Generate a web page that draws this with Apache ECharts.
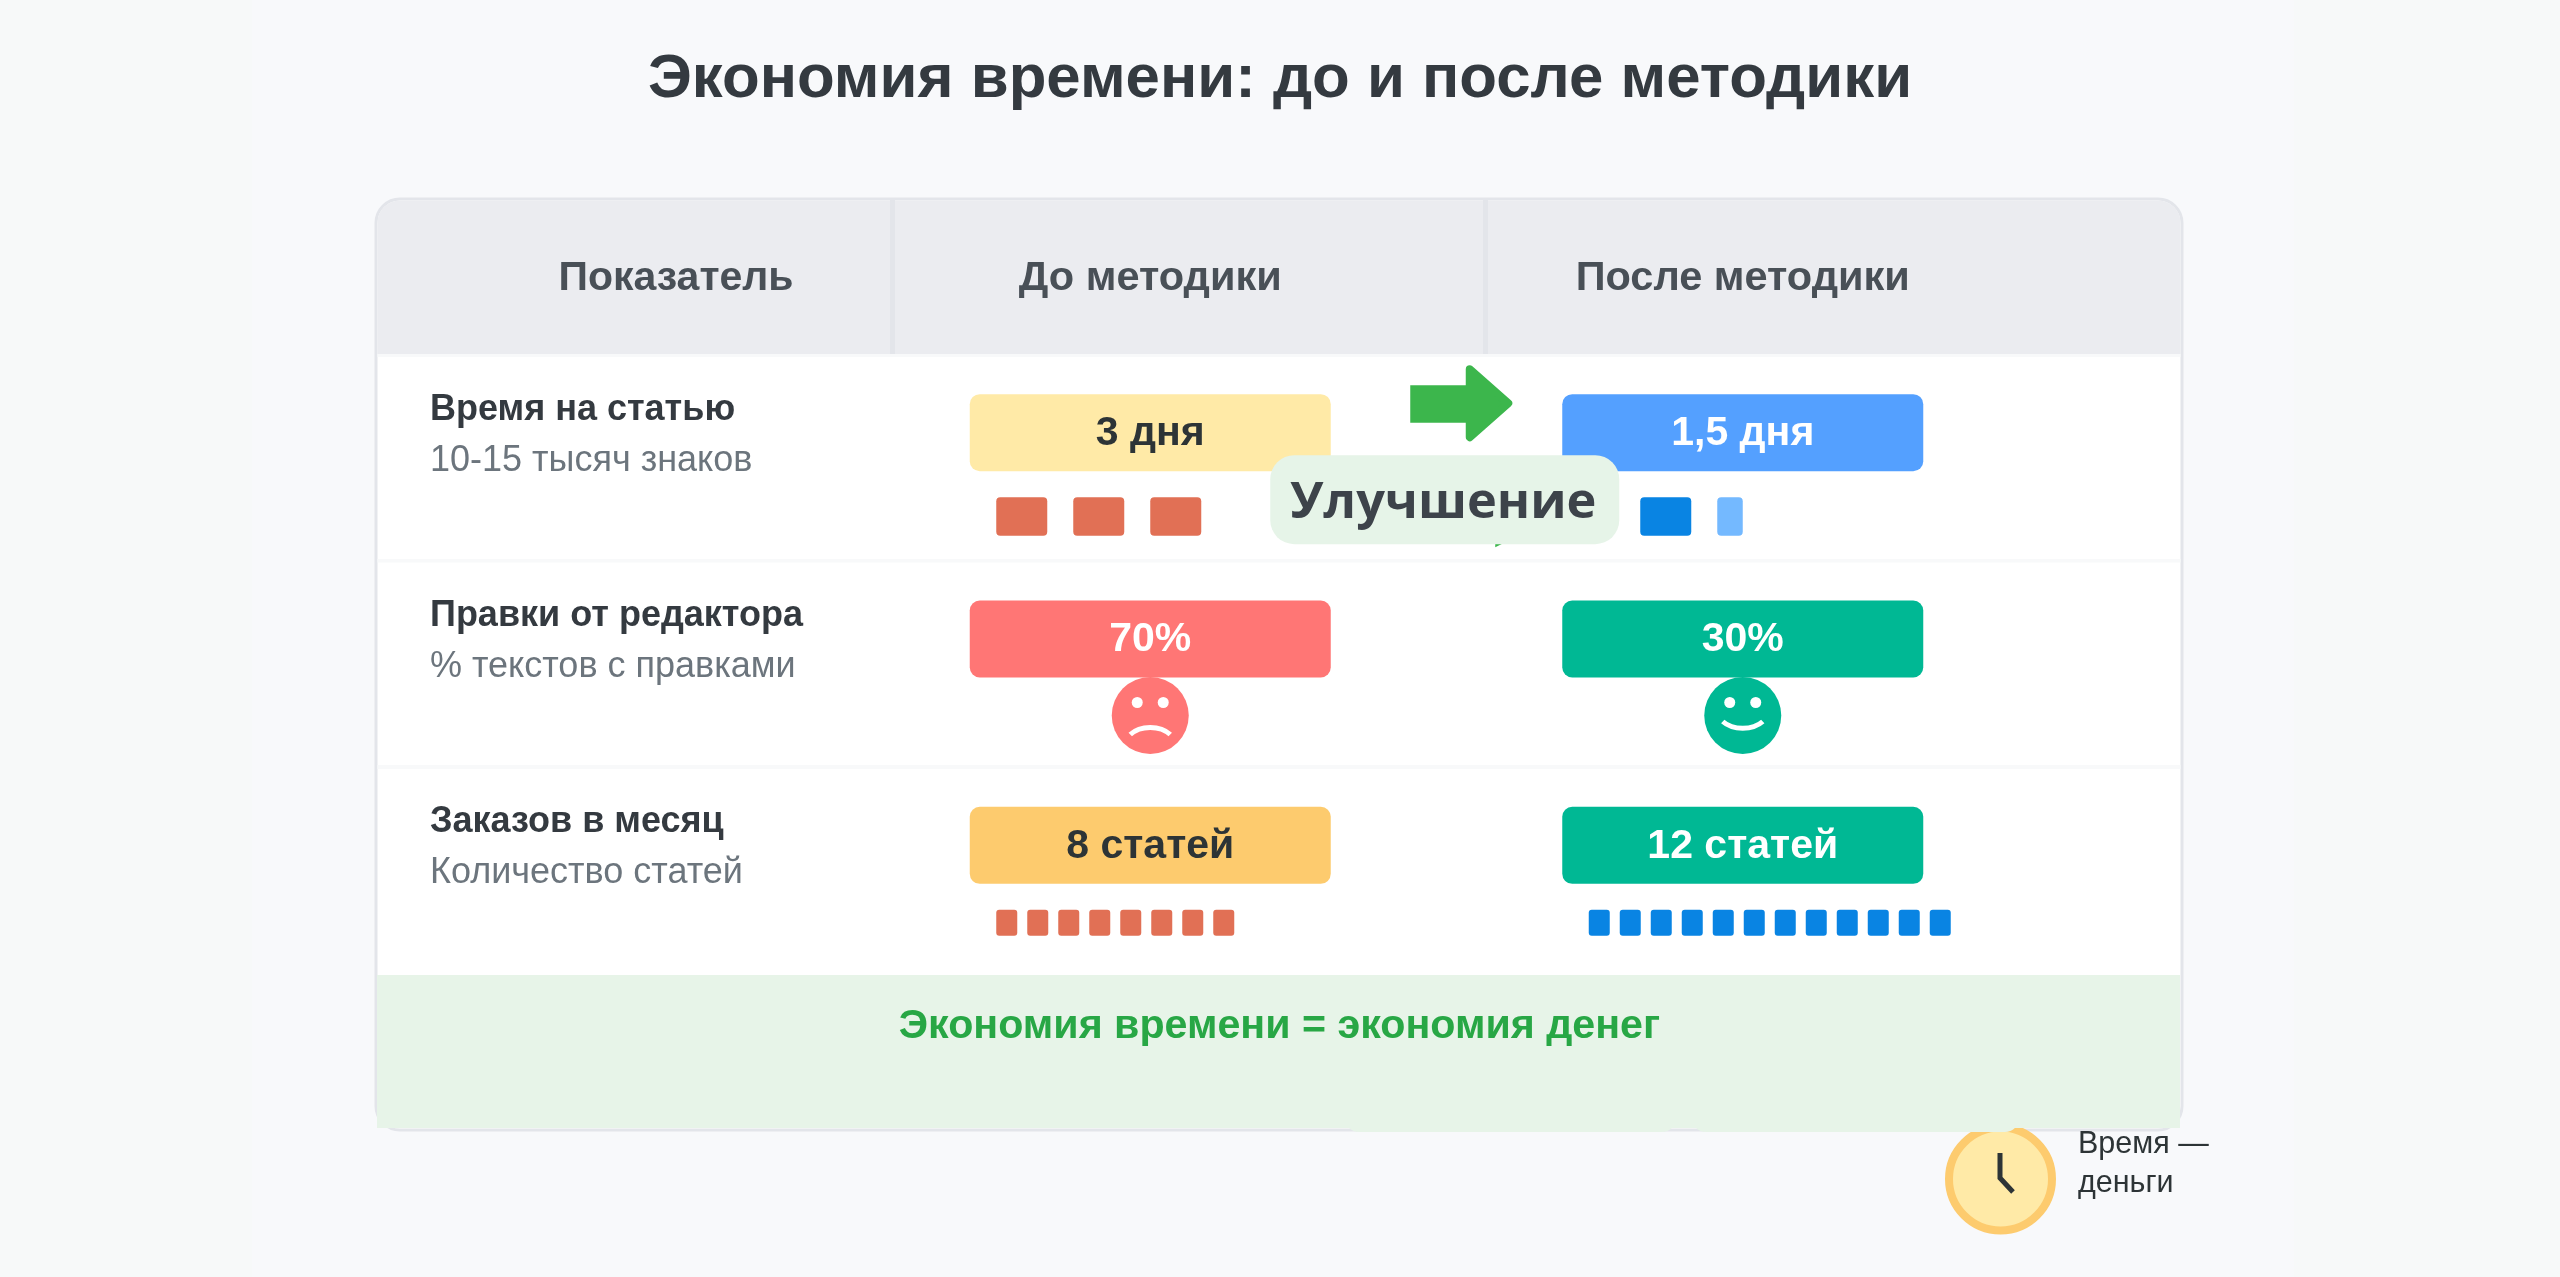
<!DOCTYPE html>
<html><head><meta charset="utf-8">
<style>html,body{margin:0;padding:0;background:#f8f9fa}#c{width:2560px;height:1277px}</style>
<script src="https://cdn.jsdelivr.net/npm/echarts@6/dist/echarts.min.js"></script>
</head><body><div id="c"></div>
<script>
const titleText = 'Экономия времени: до и после методики';
const cornerHeader = 'Показатель';
const columns = ['До методики', 'После методики'];
const rows = ['Время на статью', 'Правки от редактора', 'Заказов в месяц'];
const rowNotes = ['10-15 тысяч знаков', '% текстов с правками', 'Количество статей'];
const beforeLabels = ['3 дня', '70%', '8 статей'];
const afterLabels = ['1,5 дня', '30%', '12 статей'];
const daysPerArticle = [3, 1.5];
const editsShare = [70, 30];
const articlesPerMonth = [8, 12];
const improvementText = 'Улучшение';
const footerText = 'Экономия времени = экономия денег';
const clockCaption = ['Время —', 'деньги'];

const FONT = '"Liberation Sans", Arial, sans-serif';
const pillColors = [['#ffeaa7', '#ff7675', '#fdcb6e'], ['#54a0ff', '#00b894', '#00b894']];
const pillText = [['#2d3436', '#ffffff', '#2d3436'], ['#ffffff', '#ffffff', '#ffffff']];
const unitColors = ['#e17055', '#0984e3'];
const GRID = { left: 854, top: 354, width: 1185, height: 619 };

const pillData = [];
[beforeLabels, afterLabels].forEach((labels, c) => labels.forEach((t, r) => pillData.push([c, r, t])));

const dayData = daysPerArticle.map((v, c) => [c, 0, v]);
const articleData = articlesPerMonth.map((v, c) => [c, 2, v]);
const faceData = editsShare.map((v, c) => [c, 1, v]);

function renderPill(params, api) {
  const p = api.coord([api.value(0), api.value(1)]);
  const c = api.value(0), r = api.value(1);
  return { type: 'group', children: [
    { type: 'rect', shape: { x: p[0] - 180.5, y: p[1] - 63, width: 361, height: 77, r: 10 },
      style: { fill: pillColors[c][r] } },
    { type: 'text', style: { x: p[0], y: p[1] - 23.5, text: api.value(2), fill: pillText[c][r],
      font: 'bold 41px ' + FONT, textAlign: 'center', textVerticalAlign: 'middle' } }
  ]};
}
function renderDays(params, api) {
  const p = api.coord([api.value(0), api.value(1)]);
  const c = api.value(0), v = api.value(2);
  const kids = [];
  const start = c === 0 ? -154 : -102.5;
  const full = Math.floor(v);
  for (let i = 0; i < full; i++) {
    kids.push({ type: 'rect', shape: { x: p[0] + start + i * 77, y: p[1] + 40, width: 51, height: 38.5, r: 4 },
      style: { fill: unitColors[c] } });
  }
  if (v > full) {
    kids.push({ type: 'rect', shape: { x: p[0] + start + full * 77, y: p[1] + 40, width: 51 * (v - full), height: 38.5, r: 4 },
      style: { fill: '#74b9ff' } });
  }
  return { type: 'group', children: kids };
}
function renderArticles(params, api) {
  const p = api.coord([api.value(0), api.value(1)]);
  const c = api.value(0), kids = [];
  for (let i = 0; i < api.value(2); i++) {
    kids.push({ type: 'rect', shape: { x: p[0] - 154 + i * 31, y: p[1] + 40, width: 21, height: 26, r: 3 },
      style: { fill: unitColors[c] } });
  }
  return { type: 'group', children: kids };
}
function renderFace(params, api) {
  const p = api.coord([api.value(0), api.value(1)]);
  const c = api.value(0), cy = p[1] + 52, x = p[0];
  const color = pillColors[c][1];
  const sad = c === 0;
  return { type: 'group', children: [
    { type: 'circle', shape: { cx: x, cy: cy, r: 38.5 }, style: { fill: color } },
    { type: 'circle', shape: { cx: x - 13, cy: cy - 13, r: 5.5 }, style: { fill: '#fff' } },
    { type: 'circle', shape: { cx: x + 13, cy: cy - 13, r: 5.5 }, style: { fill: '#fff' } },
    { type: 'bezierCurve', shape: sad
        ? { x1: x - 20, y1: cy + 19, x2: x + 20, y2: cy + 19, cpx1: x - 10, cpy1: cy + 9.5, cpx2: x + 10, cpy2: cy + 9.5 }
        : { x1: x - 20, y1: cy + 6, x2: x + 20, y2: cy + 6, cpx1: x - 10, cpy1: cy + 15, cpx2: x + 10, cpy2: cy + 15 },
      style: { fill: null, stroke: '#fff', lineWidth: 5 } }
  ]};
}
function renderImprovement(params, api) {
  const p = api.coord([api.value(0), api.value(1)]);
  const x = p[0], y = p[1];
  return { type: 'group', children: [
    { type: 'rect', shape: { x: x + 260, y: y - 72, width: 56, height: 37.5 }, style: { fill: '#3cb64c' } },
    { type: 'polygon', shape: { points: [[x + 319.5, y - 88], [x + 358, y - 54], [x + 319.5, y - 20]] },
      style: { fill: '#3cb64c', stroke: '#3cb64c', lineWidth: 8, lineJoin: 'round' } },
    { type: 'polygon', shape: { points: [[x + 345, y + 86], [x + 353, y + 86], [x + 345, y + 90]] },
      style: { fill: '#3cb64c' } },
    { type: 'rect', shape: { x: x + 120, y: y - 2, width: 349, height: 89, r: 24 }, style: { fill: '#e6f4e8' } },
    { type: 'text', style: { x: x + 293, y: y + 46, text: improvementText, fill: '#3d434a',
      font: 'bold 50.5px "Open Sans", sans-serif', textAlign: 'center', textVerticalAlign: 'middle' } }
  ]};
}

const chart = echarts.init(document.getElementById('c'), null, { renderer: 'canvas' });
chart.setOption({
  animation: false,
  backgroundColor: '#f7f9f9',
  title: { text: titleText, left: 'center', top: 44,
    textStyle: { fontFamily: FONT, fontWeight: 'bold', fontSize: 61.75, color: '#343a40' } },
  grid: GRID,
  xAxis: { type: 'category', data: columns, position: 'top', axisLine: { show: false }, axisTick: { show: false },
    splitLine: { show: false },
    axisLabel: { margin: 54, fontFamily: FONT, fontWeight: 'bold', fontSize: 41.5, color: '#495057' } },
  yAxis: { type: 'category', data: rows, inverse: true, axisLine: { show: false }, axisTick: { show: false },
    splitLine: { show: false },
    axisLabel: { margin: 424, align: 'left',
      formatter: (v, i) => '{name|' + v + '}\n{note|' + rowNotes[i] + '}\n{gap| }',
      rich: {
        name: { fontFamily: FONT, fontWeight: 'bold', fontSize: 36, color: '#343a40', lineHeight: 51, height: 51 },
        note: { fontFamily: FONT, fontSize: 36, color: '#6c757d', lineHeight: 51, height: 51 },
        gap: { fontSize: 10, lineHeight: 44, height: 44 }
      } } },
  graphic: { elements: [
    { type: 'rect', z: -10, shape: { x: 252, y: 0, width: 2042, height: 1277 }, style: { fill: '#f8f9fb' } },
    { type: 'rect', z: -9, shape: { x: 376, y: 199, width: 1806, height: 931, r: 24 },
      style: { fill: '#fff', stroke: '#e3e5ea', lineWidth: 3 } },
    { type: 'rect', z: -8, shape: { x: 377.5, y: 200.5, width: 1803, height: 153.5, r: [22, 22, 0, 0] }, style: { fill: '#ebecf0' } },
    { type: 'rect', z: -7, shape: { x: 890, y: 200, width: 5, height: 154 }, style: { fill: '#e3e5ea' } },
    { type: 'rect', z: -7, shape: { x: 1483, y: 200, width: 5, height: 154 }, style: { fill: '#e3e5ea' } },
    { type: 'rect', z: -7, shape: { x: 377.5, y: 354, width: 1803, height: 3 }, style: { fill: '#f8f9fa' } },
    { type: 'rect', z: -7, shape: { x: 377.5, y: 559, width: 1803, height: 3.5 }, style: { fill: '#f8f9fa' } },
    { type: 'rect', z: -7, shape: { x: 377.5, y: 765, width: 1803, height: 4 }, style: { fill: '#f8f9fa' } },
    { type: 'circle', z: -6, shape: { cx: 2000.5, cy: 1179, r: 51.5 }, style: { fill: '#ffeaa7', stroke: '#fdcb6e', lineWidth: 8 } },
    { type: 'polyline', z: -6, shape: { points: [[2000, 1153], [2000, 1178], [2013, 1192]] },
      style: { fill: null, stroke: '#2d3436', lineWidth: 5 } },
    { type: 'rect', z: -5, shape: { x: 377, y: 975, width: 1803, height: 153 }, style: { fill: '#e7f4e8' } },
    { type: 'rect', z: -5, shape: { x: 1345, y: 1100, width: 331, height: 32, r: [0, 0, 14, 14] }, style: { fill: '#e7f4e8' } },
    { type: 'rect', z: -5, shape: { x: 1692, y: 1100, width: 327, height: 32, r: [0, 0, 14, 14] }, style: { fill: '#e7f4e8' } },
    { type: 'text', z: 5, style: { x: 1279.5, y: 1047, text: footerText, fill: '#28a745', font: 'bold 41.2px ' + FONT, textAlign: 'center', textVerticalAlign: 'bottom' } },
    { type: 'text', z: 5, style: { x: 676, y: 299, text: cornerHeader, fill: '#495057', font: 'bold 41px ' + FONT, textAlign: 'center', textVerticalAlign: 'bottom' } },
    { type: 'text', z: 5, style: { x: 2078, y: 1160, text: clockCaption[0], fill: '#2d3436', font: '30.5px ' + FONT, textVerticalAlign: 'bottom' } },
    { type: 'text', z: 5, style: { x: 2078, y: 1199, text: clockCaption[1], fill: '#2d3436', font: '30.5px ' + FONT, textVerticalAlign: 'bottom' } }
  ]},
  series: [
    { type: 'custom', name: 'Значения', coordinateSystem: 'cartesian2d', renderItem: renderPill, data: pillData, encode: { x: 0, y: 1 }, z: 3, clip: false, silent: true },
    { type: 'custom', name: 'Дни', coordinateSystem: 'cartesian2d', renderItem: renderDays, data: dayData, encode: { x: 0, y: 1 }, z: 3, clip: false, silent: true },
    { type: 'custom', name: 'Статьи', coordinateSystem: 'cartesian2d', renderItem: renderArticles, data: articleData, encode: { x: 0, y: 1 }, z: 3, clip: false, silent: true },
    { type: 'custom', name: 'Правки', coordinateSystem: 'cartesian2d', renderItem: renderFace, data: faceData, encode: { x: 0, y: 1 }, z: 3, clip: false, silent: true },
    { type: 'custom', name: 'Улучшение', coordinateSystem: 'cartesian2d', renderItem: renderImprovement, data: [[0, 0]], encode: { x: 0, y: 1 }, z: 6, clip: false, silent: true }
  ]
});
</script></body></html>
